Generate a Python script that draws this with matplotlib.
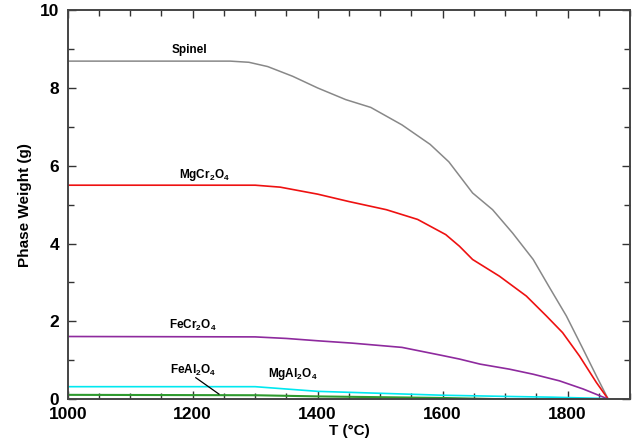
import matplotlib
matplotlib.use("Agg")
import matplotlib.pyplot as plt
from matplotlib.ticker import MultipleLocator

plt.rcParams["font.family"] = ["Liberation Sans", "DejaVu Sans"]
plt.rcParams["font.weight"] = "bold"
plt.rcParams["mathtext.fontset"] = "custom"
plt.rcParams["mathtext.rm"] = "Liberation Sans:bold"
plt.rcParams["mathtext.bf"] = "Liberation Sans:bold"
plt.rcParams["mathtext.default"] = "bf"

# values
spinel_t = [1000, 1260, 1290, 1320, 1360, 1400, 1445, 1485, 1535, 1580, 1610,
            1648, 1680, 1712, 1745, 1770, 1798, 1825, 1846, 1865]
spinel_w = [8.69, 8.69, 8.66, 8.55, 8.3, 8.0, 7.7, 7.5, 7.05, 6.55, 6.1,
            5.3, 4.87, 4.27, 3.59, 2.9, 2.14, 1.28, 0.6, 0.0]

mgcr_t = [1000, 1300, 1340, 1400, 1450, 1510, 1560, 1605, 1627, 1648, 1691,
          1734, 1766, 1792, 1819, 1846, 1865]
mgcr_w = [5.5, 5.5, 5.45, 5.27, 5.08, 4.87, 4.62, 4.23, 3.93, 3.59, 3.16,
          2.65, 2.14, 1.71, 1.11, 0.43, 0.0]

fecr_t = [1000, 1300, 1350, 1400, 1455, 1535, 1600, 1627, 1660, 1707, 1745,
          1787, 1825, 1865]
fecr_w = [1.61, 1.6, 1.56, 1.5, 1.44, 1.33, 1.12, 1.03, 0.9, 0.77, 0.64,
          0.47, 0.26, 0.0]

cyan_t = [1000, 1300, 1350, 1400, 1500, 1600, 1700, 1775, 1850, 1865]
cyan_w = [0.32, 0.32, 0.26, 0.2, 0.15, 0.1, 0.07, 0.05, 0.02, 0.0]

green_t = [1000, 1300, 1400, 1500, 1600, 1690]
green_w = [0.11, 0.1, 0.07, 0.05, 0.03, 0.0]

fig = plt.figure(figsize=(6.39, 4.42), dpi=100)
ax = fig.add_axes([0.106, 0.097, 0.880, 0.880])

ax.plot(spinel_t, spinel_w, color="#888888", lw=1.1)
ax.plot(mgcr_t, mgcr_w, color="#ee1111", lw=1.2)
ax.plot(fecr_t, fecr_w, color="#8e2a9e", lw=1.2)
ax.plot(cyan_t, cyan_w, color="#00e8f0", lw=1.2)
ax.plot(green_t, green_w, color="#2e9a2e", lw=1.5)

lab = dict(fontsize=8.5, fontweight="bold", ha="center", va="center")
ax.text(1195, 8.97, "Spinel", **lab)
ax.text(1219, 5.77, "MgCr$_2$O$_4$", **lab)
ax.text(1200, 1.9, "FeCr$_2$O$_4$", **lab)
ax.text(1200, 0.74, "FeAl$_2$O$_4$", **lab)
ax.text(1360, 0.64, "MgAl$_2$O$_4$", **lab)
ax.plot([1205, 1242], [0.55, 0.13], color="black", lw=0.9)

ax.set_xlim(1000, 1900)
ax.set_ylim(0, 10)
ax.xaxis.set_major_locator(MultipleLocator(200))
ax.xaxis.set_minor_locator(MultipleLocator(50))
ax.yaxis.set_major_locator(MultipleLocator(2))
ax.yaxis.set_minor_locator(MultipleLocator(1))
ax.tick_params(which="both", direction="in", top=True, right=True,
               color="#333333", width=1.0)
ax.tick_params(which="major", length=6, labelsize=12.5, pad=6)
ax.tick_params(which="minor", length=4)
for lbl in ax.get_xticklabels() + ax.get_yticklabels():
    lbl.set_fontweight("bold")
for s in ax.spines.values():
    s.set_color("#444444")
    s.set_linewidth(1.4)

ax.set_xlabel("T (°C)", fontsize=11, fontweight="bold", labelpad=1)
ax.set_ylabel("Phase Weight (g)", fontsize=11, fontweight="bold", labelpad=6)

fig.savefig("out.png", dpi=100)
